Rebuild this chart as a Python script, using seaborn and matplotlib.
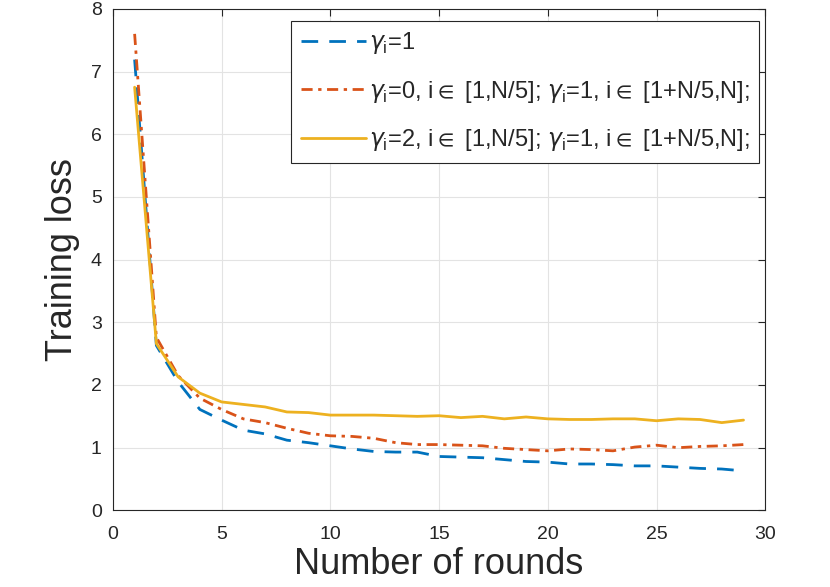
import numpy as np
import pandas as pd
import seaborn as sns
import matplotlib
matplotlib.use("Agg")
import matplotlib.pyplot as plt

# data
rounds = list(range(1, 30))
loss_equal = [7.19, 2.63, 2.05, 1.61, 1.44, 1.28, 1.22, 1.12, 1.08, 1.03,
              0.98, 0.94, 0.93, 0.93, 0.86, 0.85, 0.84, 0.81, 0.78, 0.77,
              0.74, 0.74, 0.73, 0.71, 0.71, 0.69, 0.67, 0.66, 0.63]
loss_gamma0 = [7.60, 2.76, 2.15, 1.79, 1.61, 1.46, 1.40, 1.31, 1.23, 1.19,
               1.18, 1.15, 1.08, 1.05, 1.05, 1.04, 1.03, 0.99, 0.97, 0.95,
               0.98, 0.97, 0.95, 1.01, 1.04, 1.00, 1.02, 1.03, 1.05]
loss_gamma2 = [6.75, 2.66, 2.13, 1.87, 1.73, 1.69, 1.65, 1.57, 1.56, 1.52,
               1.52, 1.52, 1.51, 1.50, 1.51, 1.48, 1.50, 1.46, 1.49, 1.46,
               1.45, 1.45, 1.46, 1.46, 1.43, 1.46, 1.45, 1.40, 1.44]

labels = [r'$\gamma_\mathrm{i}$=1',
          r'$\gamma_\mathrm{i}$=0, i$\in$ [1,N/5]; $\gamma_\mathrm{i}$=1, i$\in$ [1+N/5,N];',
          r'$\gamma_\mathrm{i}$=2, i$\in$ [1,N/5]; $\gamma_\mathrm{i}$=1, i$\in$ [1+N/5,N];']
colors = ['#0072BD', '#D95319', '#EDB120']
styles = [(0, (6, 4)), (0, (4, 2, 1.2, 2)), '-']

sns.set_theme(style="whitegrid")
plt.rcParams['font.family'] = ['Liberation Sans', 'DejaVu Sans']
plt.rcParams['mathtext.fontset'] = 'custom'
plt.rcParams['mathtext.rm'] = 'Liberation Sans'
plt.rcParams['mathtext.it'] = 'DejaVu Sans:italic'
plt.rcParams['mathtext.fallback'] = 'stixsans'

fig = plt.figure(figsize=(8.3, 5.87), dpi=100)
ax = fig.add_axes([0.136, 0.1305, 0.786, 0.8545])

series = [loss_equal, loss_gamma0, loss_gamma2]
for vals, lab, col, ls in zip(series, labels, colors, styles):
    df = pd.DataFrame({'round': rounds, 'loss': vals})
    sns.lineplot(data=df, x='round', y='loss', ax=ax, color=col,
                 linestyle=ls, linewidth=2.0, label=lab)

ax.set_xlim(0, 30)
ax.set_ylim(0, 8)
ax.set_xticks(range(0, 31, 5))
ax.set_yticks(range(0, 9))
ax.set_facecolor('white')
ax.grid(True, color='#e3e3e3', linewidth=0.8)
for sp in ax.spines.values():
    sp.set_visible(True)
    sp.set_color('#262626')
    sp.set_linewidth(0.8)
ax.tick_params(direction='in', length=5, width=0.8, color='#262626',
               top=True, right=True, labelsize=14, labelcolor='#262626')
ax.tick_params(axis='x', pad=11)
ax.tick_params(axis='y', pad=8)
ax.set_xlabel('Number of rounds', fontsize=26, color='#262626', labelpad=3)
ax.set_ylabel('Training loss', fontsize=26, color='#262626', labelpad=8)

leg = ax.legend(loc='upper right', bbox_to_anchor=(0.991, 0.976),
                fontsize=17, handlelength=2.75, handletextpad=0.15,
                labelspacing=0.95, borderaxespad=0.0, borderpad=0.4,
                fancybox=False, framealpha=1,
                edgecolor='#262626', facecolor='white')
leg.get_frame().set_linewidth(0.8)

fig.savefig('out.png', dpi=100)
